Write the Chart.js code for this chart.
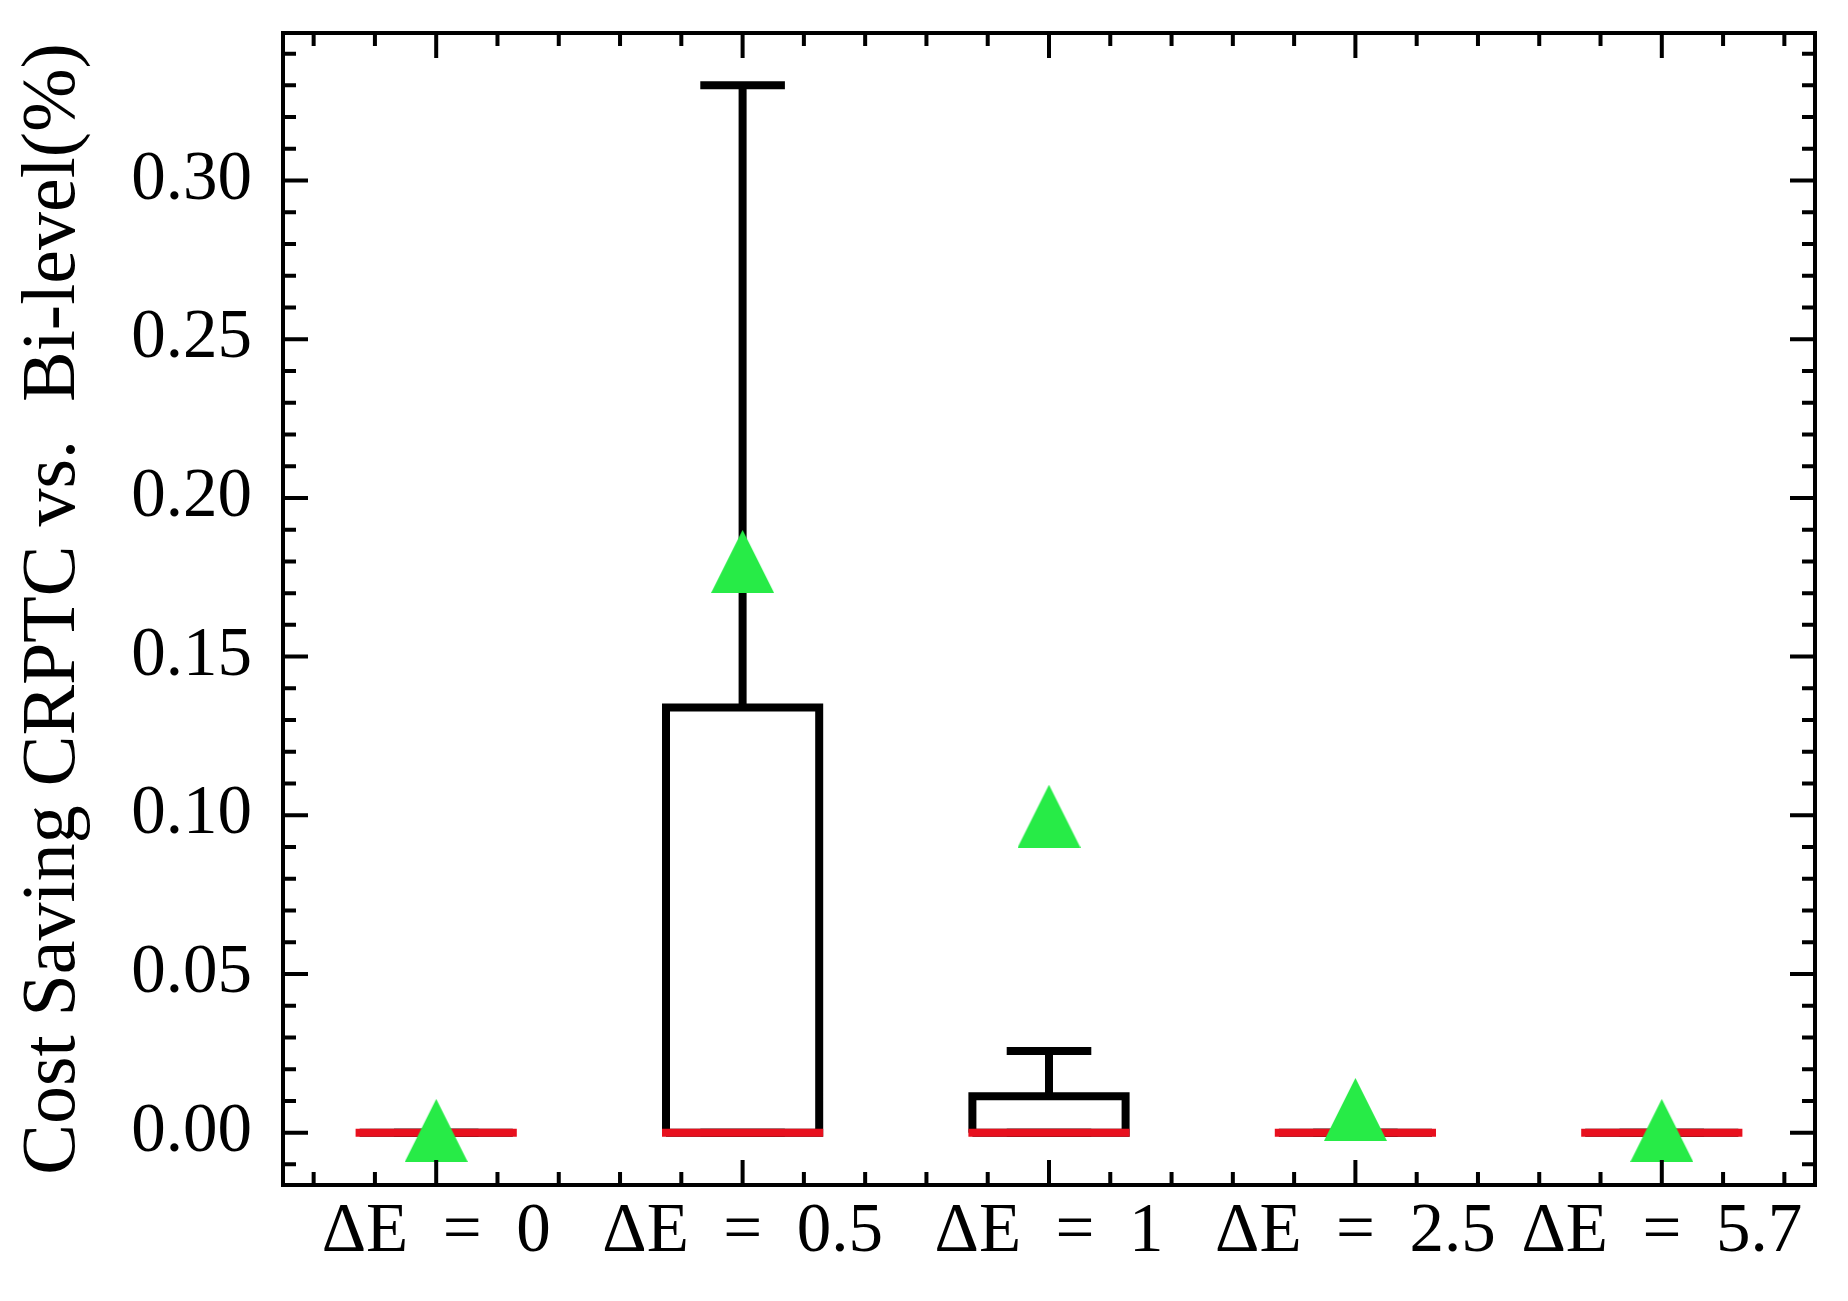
<!DOCTYPE html>
<html>
<head>
<meta charset="utf-8">
<title>Cost saving box plot</title>
<script src="https://cdn.jsdelivr.net/npm/chart.js@4.4.1/dist/chart.umd.min.js"></script>
<style>
  html, body { margin: 0; padding: 0; background: #fff; }
  #wrap { width: 1848px; height: 1301px; }
</style>
</head>
<body>
<div id="wrap"><canvas id="boxChart" width="1848" height="1301"></canvas></div>
<script>
// ================================
// DATA
// ================================
const categories = ["ΔE\u2002=\u20020", "ΔE\u2002=\u20020.5", "ΔE\u2002=\u20021", "ΔE\u2002=\u20022.5", "ΔE\u2002=\u20025.7"];
const q1Values = [0, 0, 0, 0, 0];
const medianValues = [0, 0, 0, 0, 0];
const q3Values = [0, 0.134, 0.0115, 0, 0];
const whiskerLow = [0, 0, 0, 0, 0];
const whiskerHigh = [0, 0.33, 0.0257, 0, 0];
const meanValues = [0.0007, 0.180, 0.0997, 0.0073, 0.0007];

const yTitle = "Cost Saving CRPTC vs.  Bi-level(%)";

// axis ranges and tick lists
const xMin = 0.5, xMax = 5.5;
const yMin = -0.0165, yMax = 0.3465;
const xTickValues = [];
for (let k = 3; k <= 27; k++) xTickValues.push(k / 5);      // every 0.2
const yTickValues = [];
for (let k = -1; k <= 34; k++) yTickValues.push(k / 100);   // every 0.01

// ================================
// STYLE
// ================================
const FONT = "'Liberation Serif', 'Times New Roman', serif";
const BOX_WIDTH = 0.5;
const CAP_WIDTH = 0.25;
const LINE_W = 8;
const RED = "#e8101e";
const GREEN = "#27eb47";

const isWhole = v => Math.abs(v - Math.round(v)) < 1e-6;
const isMajorY = v => Math.abs(v * 20 - Math.round(v * 20)) < 1e-6;

// mean marker: matplotlib style "^" (height == width)
function makeTriangle(size, color) {
  const c = document.createElement("canvas");
  c.width = size;
  c.height = size;
  const g = c.getContext("2d");
  g.fillStyle = color;
  g.beginPath();
  g.moveTo(size / 2, 0);
  g.lineTo(size, size);
  g.lineTo(0, size);
  g.closePath();
  g.fill();
  return c;
}

// ================================
// BUILD SEGMENTS FROM THE DATA
// ================================
function boxPoints() {
  const pts = [];
  const h = BOX_WIDTH / 2;
  categories.forEach((_, i) => {
    const x = i + 1;
    pts.push(
      { x: x - h, y: q1Values[i] },
      { x: x - h, y: q3Values[i] },
      { x: x + h, y: q3Values[i] },
      { x: x + h, y: q1Values[i] },
      { x: x - h, y: q1Values[i] },
      { x: x, y: null }
    );
  });
  return pts;
}

function whiskerPoints() {
  const pts = [];
  categories.forEach((_, i) => {
    const x = i + 1;
    pts.push({ x, y: q3Values[i] }, { x, y: whiskerHigh[i] }, { x, y: null });
    pts.push({ x, y: q1Values[i] }, { x, y: whiskerLow[i] }, { x, y: null });
  });
  return pts;
}

function capPoints() {
  const pts = [];
  const h = CAP_WIDTH / 2;
  categories.forEach((_, i) => {
    const x = i + 1;
    pts.push({ x: x - h, y: whiskerHigh[i] }, { x: x + h, y: whiskerHigh[i] }, { x, y: null });
    pts.push({ x: x - h, y: whiskerLow[i] }, { x: x + h, y: whiskerLow[i] }, { x, y: null });
  });
  return pts;
}

function medianPoints() {
  const pts = [];
  const h = BOX_WIDTH / 2;
  categories.forEach((_, i) => {
    const x = i + 1;
    pts.push({ x: x - h, y: medianValues[i] }, { x: x + h, y: medianValues[i] }, { x, y: null });
  });
  return pts;
}

// ================================
// FRAME + INWARD TICKS (all four sides)
// ================================
const frameTicks = {
  id: "frameTicks",
  afterDatasetsDraw(chart) {
    const { ctx, chartArea: a, scales: { x, y } } = chart;
    ctx.save();
    ctx.strokeStyle = "#000";
    ctx.lineWidth = 4;
    ctx.lineCap = "butt";
    ctx.beginPath();
    x.ticks.forEach(t => {
      const px = x.getPixelForValue(t.value);
      const len = isWhole(t.value) ? 25 : 13;
      ctx.moveTo(px, a.bottom); ctx.lineTo(px, a.bottom - len);
      ctx.moveTo(px, a.top); ctx.lineTo(px, a.top + len);
    });
    y.ticks.forEach(t => {
      const py = y.getPixelForValue(t.value);
      const len = isMajorY(t.value) ? 25 : 13;
      ctx.moveTo(a.left, py); ctx.lineTo(a.left + len, py);
      ctx.moveTo(a.right, py); ctx.lineTo(a.right - len, py);
    });
    ctx.stroke();
    ctx.lineJoin = "miter";
    ctx.strokeRect(a.left, a.top, a.right - a.left, a.bottom - a.top);
    ctx.restore();
  }
};

// fixed scale sizes, no extra room for half-height end labels
function fixSize(s, w, h) {
  if (w != null) s.width = w;
  if (h != null) s.height = h;
  s.paddingTop = 0;
  s.paddingBottom = 0;
  s.paddingLeft = 0;
  s.paddingRight = 0;
}

// ================================
// CHART
// ================================
const lineBase = {
  type: "line",
  pointRadius: 0,
  pointHoverRadius: 0,
  borderWidth: LINE_W,
  fill: false,
  spanGaps: false,
  tension: 0,
  borderJoinStyle: "miter"
};

new Chart(document.getElementById("boxChart"), {
  type: "line",
  data: {
    datasets: [
      {
        label: "Mean",
        type: "line",
        showLine: false,
        data: meanValues.map((m, i) => ({ x: i + 1, y: m })),
        pointStyle: makeTriangle(63, GREEN),
        pointRadius: 32,
        pointHoverRadius: 32,
        order: 0
      },
      Object.assign({}, lineBase, {
        label: "Median", data: medianPoints(), borderColor: RED,
        borderCapStyle: "square", order: 1
      }),
      Object.assign({}, lineBase, {
        label: "Caps", data: capPoints(), borderColor: "#000",
        borderCapStyle: "square", order: 2
      }),
      Object.assign({}, lineBase, {
        label: "Whiskers", data: whiskerPoints(), borderColor: "#000",
        borderCapStyle: "butt", order: 3
      }),
      Object.assign({}, lineBase, {
        label: "Boxes", data: boxPoints(), borderColor: "#000",
        borderCapStyle: "butt", order: 4
      })
    ]
  },
  options: {
    responsive: false,
    animation: false,
    devicePixelRatio: 1,
    layout: { padding: { top: 29, right: 29, left: 0, bottom: 0 } },
    plugins: {
      legend: { display: false },
      tooltip: { enabled: false }
    },
    events: [],
    scales: {
      x: {
        type: "linear",
        min: xMin,
        max: xMax,
        bounds: "data",
        afterFit: s => fixSize(s, null, 116),
        afterBuildTicks: s => { s.ticks = xTickValues.map(v => ({ value: v })); },
        grid: { display: false, drawTicks: false },
        border: { display: false },
        ticks: {
          autoSkip: false,
          maxRotation: 0,
          padding: 6,
          color: "#000",
          font: { family: FONT, size: 69 },
          callback: v => isWhole(v) ? categories[Math.round(v) - 1] : ""
        }
      },
      y: {
        type: "linear",
        min: yMin,
        max: yMax,
        bounds: "data",
        afterFit: s => fixSize(s, 283, null),
        afterBuildTicks: s => { s.ticks = yTickValues.map(v => ({ value: v })); },
        grid: { display: false, drawTicks: false },
        border: { display: false },
        title: {
          display: true,
          text: yTitle,
          color: "#000",
          padding: { top: 8, bottom: 0 },
          font: { family: FONT, size: 76 }
        },
        ticks: {
          autoSkip: false,
          padding: 31,
          color: "#000",
          font: { family: FONT, size: 69 },
          callback: v => isMajorY(v) ? v.toFixed(2) : ""
        }
      }
    }
  },
  plugins: [frameTicks]
});
</script>
</body>
</html>
